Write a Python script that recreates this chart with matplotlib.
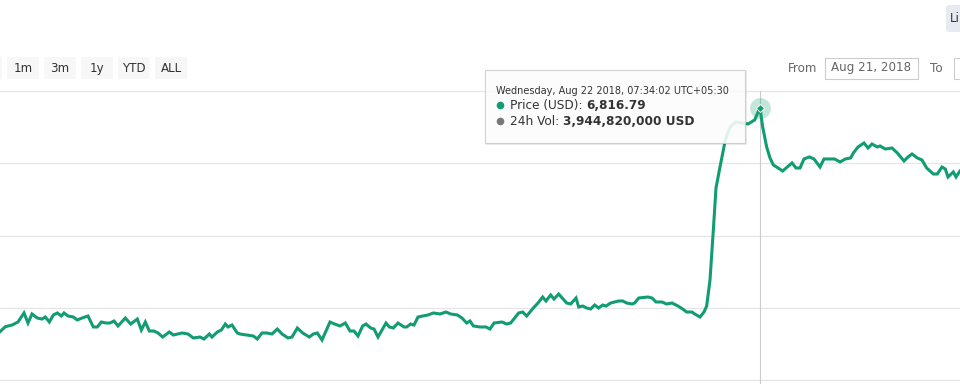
import matplotlib
matplotlib.use('Agg')
import matplotlib.pyplot as plt
from matplotlib.patches import FancyBboxPatch, Rectangle
import numpy as np
import pandas as pd

# price samples, minutes after 2018-08-21 12:34:02 (UTC+05:30)
minutes = [0, 8, 18, 27, 36, 42, 48, 56, 63, 68, 74, 80, 86, 92, 96, 102, 110, 116, 123, 132,
           140, 146, 152, 159, 165, 171, 177, 188, 196, 206, 212, 218, 224, 231, 237, 244, 254, 260, 273, 282,
           290, 300, 306, 314, 318, 326, 332, 338, 342, 348, 356, 360, 370, 380, 386, 393, 400, 408, 416, 423,
           432, 438, 446, 454, 464, 470, 476, 483, 495, 502, 510, 518, 525, 531, 537, 544, 549, 556, 561, 567,
           579, 584, 590, 597, 606, 610, 616, 621, 627, 634, 642, 650, 660, 669, 676, 686, 693, 700, 705, 710,
           720, 729, 735, 741, 753, 760, 766, 778, 784, 790, 800, 807, 814, 819, 826, 831, 838, 850, 856, 864,
           868, 874, 880, 886, 892, 898, 904, 909, 916, 928, 934, 940, 948, 952, 958, 972, 978, 984, 993, 1000,
           1008, 1017, 1024, 1030, 1038, 1042, 1050, 1056, 1060, 1065, 1070, 1074, 1080, 1088, 1095, 1104, 1113, 1122, 1132, 1140,
           1144, 1150, 1155, 1160, 1167, 1174, 1188, 1194, 1200, 1206, 1214, 1221, 1230, 1236, 1245, 1252, 1260, 1268, 1276, 1280,
           1287, 1296, 1302, 1308, 1316, 1320, 1328, 1338, 1346, 1356, 1362, 1368, 1376, 1383, 1390, 1400, 1406, 1413, 1418, 1422,
           1430, 1434, 1440, 1446]
prices = [6506.9, 6513.8, 6516.1, 6520.3, 6532.8, 6518.9, 6531.4, 6525.8, 6524.4, 6527.2, 6520.3, 6530.0, 6532.8, 6528.6, 6532.8, 6528.6, 6527.2, 6523.1, 6525.8, 6528.6,
          6513.4, 6513.4, 6520.3, 6518.9, 6518.9, 6521.7, 6514.8, 6525.8, 6517.5, 6524.4, 6509.2, 6520.3, 6507.8, 6507.8, 6505.1, 6499.5, 6506.5, 6502.3, 6505.1, 6503.7,
          6498.2, 6499.5, 6496.8, 6503.7, 6499.5, 6506.5, 6509.2, 6517.5, 6513.4, 6516.1, 6505.1, 6503.7, 6502.3, 6500.9, 6496.8, 6505.1, 6505.1, 6503.7, 6510.6, 6503.7,
          6498.2, 6499.5, 6512.0, 6505.1, 6499.5, 6503.7, 6505.1, 6495.4, 6520.3, 6517.5, 6514.8, 6518.9, 6507.8, 6507.8, 6500.9, 6514.8, 6517.5, 6512.0, 6510.6, 6499.5,
          6518.9, 6513.4, 6512.0, 6518.9, 6513.4, 6513.4, 6517.5, 6516.1, 6527.2, 6528.6, 6530.0, 6532.8, 6531.4, 6534.1, 6531.4, 6530.0, 6525.8, 6518.9, 6521.7, 6514.8,
          6513.4, 6513.4, 6510.6, 6518.9, 6520.3, 6517.5, 6518.9, 6532.8, 6534.1, 6528.6, 6539.7, 6546.6, 6554.9, 6549.4, 6557.7, 6552.1, 6559.0, 6546.6, 6545.2, 6553.5,
          6541.1, 6542.4, 6539.7, 6538.3, 6543.8, 6539.7, 6543.8, 6542.4, 6546.6, 6549.4, 6549.4, 6546.6, 6545.2, 6546.6, 6553.5, 6554.9, 6553.5, 6548.0, 6548.0, 6545.2,
          6546.6, 6542.4, 6538.3, 6534.1, 6534.1, 6531.4, 6527.2, 6534.1, 6542.4, 6578.4, 6647.6, 6705.8, 6734.8, 6772.2, 6790.2, 6797.1, 6795.7, 6794.3, 6799.9, 6816.79,
          6790.2, 6762.5, 6747.3, 6737.6, 6733.4, 6729.3, 6740.4, 6733.4, 6733.4, 6745.9, 6748.7, 6745.9, 6734.8, 6745.9, 6745.9, 6745.9, 6741.7, 6745.9, 6747.3, 6754.2,
          6762.5, 6768.0, 6761.1, 6766.6, 6762.5, 6763.9, 6759.7, 6761.1, 6754.2, 6743.1, 6748.7, 6752.8, 6747.3, 6744.5, 6733.4, 6725.1, 6725.1, 6734.8, 6732.0, 6721.0,
          6727.9, 6721.0, 6729.3, 6735.0]

range_buttons = ['1m', '3m', '1y', 'YTD', 'ALL']
grid_levels = [6440, 6540, 6640, 6740, 6840]
hover_index = 159
tooltip_header = 'Wednesday, Aug 22 2018, 07:34:02 UTC+05:30'
tooltip_rows = [('Price (USD): ', '6,816.79', '#119c72'),
                ('24h Vol: ', '3,944,820,000 USD', '#777777')]

green = '#119c72'
start = pd.Timestamp('2018-08-21 12:34:02')
times = start + pd.to_timedelta(minutes, unit='m')

fig = plt.figure(figsize=(9.6, 3.84), dpi=100)
ax = fig.add_axes([0, 0, 1, 1])
ax.set_xlim(start, start + pd.Timedelta(minutes=1440))
ax.set_ylim(6434.5, 6965.9)
ax.axis('off')

for g in grid_levels:
    ax.axhline(g, color='#e6e6e6', lw=1.0, zorder=1)

# crosshair + hover marker
t_hover = times[hover_index]
p_hover = prices[hover_index]
ax.plot([t_hover, t_hover], [6434.5, grid_levels[-1]], color='#cccccc', lw=0.8, zorder=1)
ax.plot(times, prices, color=green, lw=2.2, solid_joinstyle='miter', zorder=2)
ax.plot([t_hover], [p_hover], 'o', ms=15, color=green, alpha=0.25, mec='none', zorder=3)
ax.plot([t_hover], [p_hover], 'D', ms=4, color=green, mec='white', mew=0.6, zorder=4)

# overlay in pixel coordinates for the UI bits
ov = fig.add_axes([0, 0, 1, 1], zorder=5)
ov.set_xlim(0, 960)
ov.set_ylim(384, 0)
ov.axis('off')
ov.patch.set_alpha(0)

# range selector buttons
ov.add_patch(FancyBboxPatch((-30, 57), 32, 22, boxstyle='round,pad=0,rounding_size=2',
                            fc='#f7f7f7', ec='none'))
bx = 7
for lab in range_buttons:
    ov.add_patch(FancyBboxPatch((bx, 57), 32, 22, boxstyle='round,pad=0,rounding_size=2',
                                fc='#f7f7f7', ec='none'))
    ov.text(bx + 16, 68.5, lab, ha='center', va='center', fontsize=8.6, color='#333333')
    bx += 37

# date inputs
ov.text(788, 68, 'From', ha='left', va='center', fontsize=8.6, color='#666666')
ov.add_patch(Rectangle((824.5, 57.5), 93, 21, fc='white', ec='#cccccc', lw=0.8))
ov.text(871, 68, 'Aug 21, 2018', ha='center', va='center', fontsize=8.6, color='#666666')
ov.text(930, 68, 'To', ha='left', va='center', fontsize=8.6, color='#666666')
ov.add_patch(Rectangle((953.5, 57.5), 40, 21, fc='white', ec='#cccccc', lw=0.8))

# chart type button (cut off on the right)
ov.add_patch(FancyBboxPatch((946, 5), 30, 27, boxstyle='round,pad=0,rounding_size=3',
                            fc='#e7eaf0', ec='none'))
ov.text(950, 19, 'Li', ha='left', va='center', fontsize=8.6, color='#333333')

# tooltip
ov.add_patch(Rectangle((486, 71), 261, 74, fc='#000000', alpha=0.08, ec='none'))
ov.add_patch(Rectangle((484.5, 69.5), 260, 73, fc='white', alpha=0.88, ec='#cccccc', lw=0.8))
ov.text(496, 94, tooltip_header, ha='left', va='baseline', fontsize=7, color='#333333')
renderer = fig.canvas.get_renderer()
row_y = [109, 125]
for (lab, val, col), y in zip(tooltip_rows, row_y):
    ov.plot([500], [y - 4.5], 'o', ms=5.5, color=col, mec='none')
    t = ov.text(510, y, lab, ha='left', va='baseline', fontsize=8.7, color='#333333')
    bb = t.get_window_extent(renderer=renderer)
    ov.text(bb.x1, y, val, ha='left', va='baseline', fontsize=8.7, color='#333333',
            fontweight='bold')

fig.savefig('out.png', dpi=100)
